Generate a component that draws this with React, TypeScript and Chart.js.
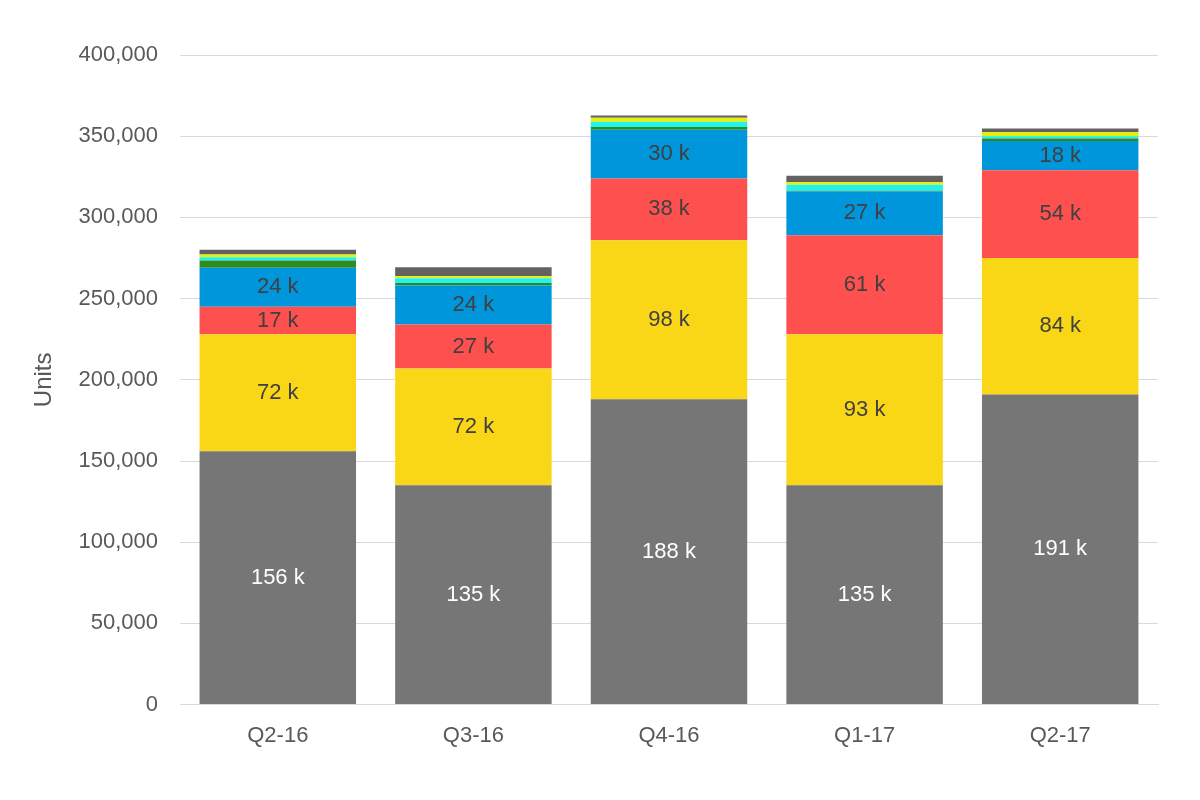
import React, { useEffect, useRef } from "react";
import { Chart, registerables } from "chart.js";

Chart.register(...registerables);

const categories = ["Q2-16", "Q3-16", "Q4-16", "Q1-17", "Q2-17"];
// values in thousands of units
const seriesGray = [156, 135, 188, 135, 191];
const seriesGold = [72, 72, 98, 93, 84];
const seriesRed = [17, 27, 38, 61, 54];
const seriesBlue = [24, 24, 30, 27, 18];
const seriesGreen = [4.5, 1.6, 1.6, 0.4, 1.6];
const seriesCyan = [2, 3, 3.3, 3.7, 1.4];
const seriesYellow = [1.6, 1.2, 2.5, 1.6, 2.5];
const seriesDark = [3, 5.5, 1.4, 3.9, 2.2];
const yTicks = [0, 50000, 100000, 150000, 200000, 250000, 300000, 350000, 400000];

const FONT = "'Liberation Sans Narrow', 'Arial Narrow', 'Liberation Sans', sans-serif";

const labelPlugin = {
  id: "segLabels",
  afterDatasetsDraw(chart: any) {
    const ctx = chart.ctx;
    ctx.save();
    ctx.font = `22px ${FONT}`;
    ctx.textAlign = "center";
    ctx.textBaseline = "middle";
    chart.data.datasets.forEach((ds: any, di: number) => {
      if (!ds.showLabel) return;
      const meta = chart.getDatasetMeta(di);
      meta.data.forEach((bar: any, i: number) => {
        const v = ds.data[i] / 1000;
        const y = (bar.y + bar.base) / 2;
        ctx.fillStyle = ds.labelColor;
        ctx.fillText(`${Math.round(v)} k`, bar.x, y);
      });
    });
    ctx.restore();
  },
};

export default function App() {
  const ref = useRef<HTMLCanvasElement>(null);
  useEffect(() => {
    const k = (a: number[]) => a.map((v) => v * 1000);
    const mk = (data: number[], color: string, showLabel = false, labelColor = "#404040") => ({
      data: k(data),
      backgroundColor: color,
      borderWidth: 0,
      showLabel,
      labelColor,
    });
    const chart = new Chart(ref.current!, {
      type: "bar",
      data: {
        labels: categories,
        datasets: [
          mk(seriesGray, "#767676", true, "#ffffff"),
          mk(seriesGold, "#F9D616", true),
          mk(seriesRed, "#FF5050", true),
          mk(seriesBlue, "#0096DB", true),
          mk(seriesGreen, "#2E8B22"),
          mk(seriesCyan, "#22F2EE"),
          mk(seriesYellow, "#E6F000"),
          mk(seriesDark, "#626262"),
        ] as any,
      },
      options: {
        animation: false,
        responsive: false,
        layout: { padding: { top: 55, right: 42, bottom: 33, left: 0 } },
        plugins: { legend: { display: false }, tooltip: { enabled: false } },
        scales: {
          x: {
            stacked: true,
            grid: { display: false, drawTicks: false },
            border: { display: true, color: "#d9d9d9", width: 1 },
            ticks: { color: "#595959", font: { size: 22, family: FONT }, padding: 18 },
          },
          y: {
            stacked: true,
            min: 0,
            max: 400000,
            afterFit: (s: any) => {
              s.width = 180;
            },
            afterBuildTicks: (s: any) => {
              s.ticks = yTicks.map((v) => ({ value: v }));
            },
            grid: { color: "#d9d9d9", drawTicks: false },
            border: { display: false },
            ticks: {
              color: "#595959",
              font: { size: 22, family: FONT },
              padding: 22,
              callback: (v: any) => Number(v).toLocaleString("en-US"),
            },
            title: {
              display: true,
              text: "Units",
              color: "#595959",
              font: { size: 24, family: FONT },
              padding: { top: 30, bottom: 0 },
            },
          },
        },
        datasets: { bar: { barPercentage: 0.8, categoryPercentage: 1 } },
      } as any,
      plugins: [labelPlugin],
    });
    return () => chart.destroy();
  }, []);
  return (
    <div style={{ position: "fixed", left: 0, top: 0, width: 1200, height: 800, background: "#fff" }}>
      <canvas ref={ref} width={1200} height={800} style={{ width: 1200, height: 800 }} />
    </div>
  );
}
